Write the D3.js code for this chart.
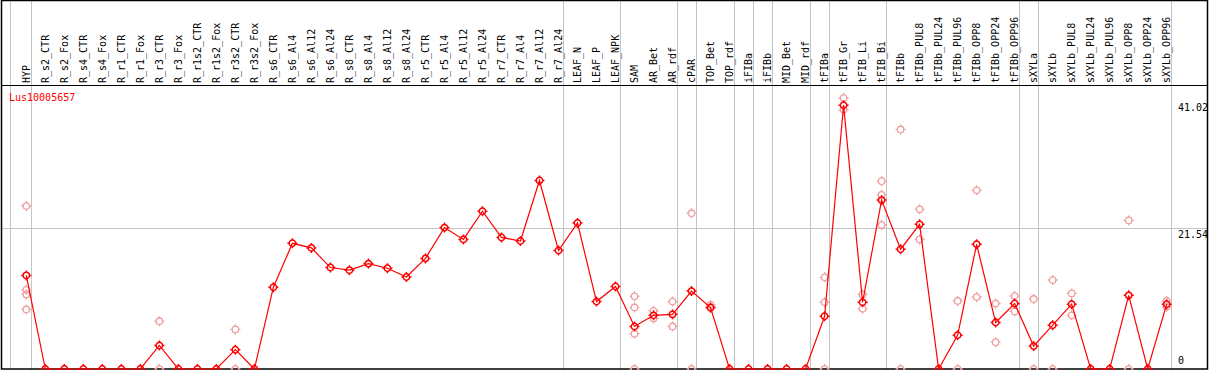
<!DOCTYPE html>
<html>
<head>
<meta charset="utf-8">
<script src="https://cdn.jsdelivr.net/npm/d3@7"></script>
<style>
  html, body { margin: 0; padding: 0; background: #fff; }
  svg { display: block; }
  text { font-family: "DejaVu Sans Mono", monospace; font-size: 10px; }
</style>
</head>
<body>
<div id="chart"></div>
<script>
// sample names, one column each
const samples = [
  "HYP", "R_s2_CTR", "R_s2_Fox", "R_s4_CTR", "R_s4_Fox", "R_r1_CTR", "R_r1_Fox",
  "R_r3_CTR", "R_r3_Fox", "R_r1s2_CTR", "R_r1s2_Fox", "R_r3s2_CTR", "R_r3s2_Fox",
  "R_s6_CTR", "R_s6_Al4", "R_s6_Al12", "R_s6_Al24", "R_s8_CTR", "R_s8_Al4", "R_s8_Al12",
  "R_s8_Al24", "R_r5_CTR", "R_r5_Al4", "R_r5_Al12", "R_r5_Al24", "R_r7_CTR", "R_r7_Al4",
  "R_r7_Al12", "R_r7_Al24", "LEAF_N", "LEAF_P", "LEAF_NPK", "SAM", "AR_Bet", "AR_rdf",
  "cPAR", "TOP_Bet", "TOP_rdf", "iFIBa", "iFIBb", "MID_Bet", "MID_rdf", "tFIBa",
  "tFIB_Gr", "tFIB_Li", "tFIB_Bi", "tFIBb", "tFIBb_PUL8", "tFIBb_PUL24", "tFIBb_PUL96",
  "tFIBb_OPP8", "tFIBb_OPP24", "tFIBb_OPP96", "sXYLa", "sXYLb", "sXYLb_PUL8",
  "sXYLb_PUL24", "sXYLb_PUL96", "sXYLb_OPP8", "sXYLb_OPP24", "sXYLb_OPP96"
];

// mean expression per sample
const means = [
  14.3, 0, 0, 0, 0, 0, 0, 3.6, 0, 0, 0, 2.95, 0,
  12.5, 19.2, 18.5, 15.5, 15.1, 16.1, 15.4, 14.05, 16.9, 21.6, 19.8, 24.1,
  20.1, 19.55, 28.8, 18.1, 22.3, 10.3, 12.6, 6.5, 8.2, 8.35, 11.9, 9.4,
  0, 0, 0, 0, 0, 8.05, 40.3, 10.2, 25.8, 18.3, 22.1, 0, 5.15, 19.05, 7.1, 10.0,
  3.5, 6.7, 9.9, 0, 0, 11.25, 0, 9.9
];

// individual replicates [sample, value]
const replicates = [
  ["HYP", 24.9], ["HYP", 12.1], ["HYP", 11.4], ["HYP", 9.1],
  ["R_r3_CTR", 7.3], ["R_r3_CTR", 0],
  ["R_r3s2_CTR", 6.05], ["R_r3s2_CTR", 0],
  ["SAM", 11.1], ["SAM", 9.4], ["SAM", 5.4], ["SAM", 0],
  ["AR_Bet", 8.9], ["AR_Bet", 7.7],
  ["AR_rdf", 10.3], ["AR_rdf", 6.5],
  ["cPAR", 23.8], ["cPAR", 0],
  ["TOP_Bet", 9.8], ["TOP_Bet", 9.3],
  ["tFIBa", 14.0], ["tFIBa", 10.2], ["tFIBa", 0],
  ["tFIB_Gr", 41.4], ["tFIB_Gr", 39.6],
  ["tFIB_Li", 11.4], ["tFIB_Li", 9.2],
  ["tFIB_Bi", 28.7], ["tFIB_Bi", 26.6], ["tFIB_Bi", 22.0],
  ["tFIBb", 36.6], ["tFIBb", 0],
  ["tFIBb_PUL8", 24.4], ["tFIBb_PUL8", 19.8],
  ["tFIBb_PUL96", 10.4], ["tFIBb_PUL96", 0],
  ["tFIBb_OPP8", 27.3], ["tFIBb_OPP8", 11.0],
  ["tFIBb_OPP24", 10.0], ["tFIBb_OPP24", 4.1],
  ["tFIBb_OPP96", 11.15], ["tFIBb_OPP96", 8.8],
  ["sXYLa", 10.7], ["sXYLa", 0],
  ["sXYLb", 13.6], ["sXYLb", 0],
  ["sXYLb_PUL8", 11.55], ["sXYLb_PUL8", 8.2],
  ["sXYLb_OPP8", 22.7], ["sXYLb_OPP8", 0],
  ["sXYLb_OPP96", 10.4], ["sXYLb_OPP96", 9.5]
];

// last sample of each group (a grey separator follows it)
const groupEnds = [
  "HYP", "R_r7_Al24", "LEAF_NPK", "AR_rdf", "cPAR", "TOP_rdf", "iFIBa", "iFIBb",
  "MID_rdf", "tFIBa", "tFIB_Bi", "tFIBb_OPP96", "sXYLa", "sXYLb_OPP96"
];

const yTicks = [0, 21.54, 41.02];
const geneName = "Lus10005657";

const W = 1209, H = 370;
const headerBottom = 85;

const svg = d3.select("#chart").append("svg")
    .attr("width", W)
    .attr("height", H);

const x = d3.scalePoint()
    .domain(samples)
    .range([26.3, 1166.7]);

const y = d3.scaleLinear()
    .domain([0, 41.02])
    .range([369, 100.5]);

// grid: separators
svg.append("g")
    .selectAll("line")
    .data(groupEnds)
    .join("line")
    .attr("x1", d => Math.round(x(d) + 4.4) + 0.5)
    .attr("x2", d => Math.round(x(d) + 4.4) + 0.5)
    .attr("y1", 0)
    .attr("y2", H)
    .attr("stroke", "#c4c4c4")
    .attr("stroke-width", 1);

// the extra line just left of the first column
svg.append("line")
    .attr("x1", 10.5).attr("x2", 10.5)
    .attr("y1", 0).attr("y2", H)
    .attr("stroke", "#c4c4c4");

// horizontal grid at the middle tick
svg.append("line")
    .attr("x1", 1).attr("x2", W - 1)
    .attr("y1", Math.round(y(yTicks[1])) + 0.5)
    .attr("y2", Math.round(y(yTicks[1])) + 0.5)
    .attr("stroke", "#c4c4c4");

// header labels
svg.append("g")
    .selectAll("text")
    .data(samples)
    .join("text")
    .attr("transform", d => `translate(${x(d) + 3.5},83) rotate(-90)`)
    .attr("fill", "#000")
    .text(d => d);

// frame
svg.append("rect")
    .attr("x", 1.5).attr("y", 0.5)
    .attr("width", W - 3).attr("height", H - 1.5)
    .attr("fill", "none")
    .attr("stroke", "#000")
    .attr("stroke-width", 1.5);

svg.append("line")
    .attr("x1", 1).attr("x2", W - 1)
    .attr("y1", headerBottom + 0.5).attr("y2", headerBottom + 0.5)
    .attr("stroke", "#000")
    .attr("stroke-width", 1.2);

// gene name
svg.append("text")
    .attr("x", 9)
    .attr("y", 101)
    .attr("fill", "#ff0000")
    .text(geneName);

// right axis
const axis = d3.axisRight(y)
    .tickValues(yTicks)
    .tickSize(0)
    .tickPadding(0)
    .tickFormat(d => d === 0 ? "0" : d3.format(".2f")(d));

const axisG = svg.append("g")
    .attr("transform", "translate(1178,0)")
    .call(axis);
axisG.select(".domain").remove();
axisG.selectAll("text")
    .attr("font-family", "'DejaVu Sans Mono', monospace")
    .attr("font-size", 10)
    .attr("fill", "#000")
    .attr("dy", d => d === 0 ? "-0.55em" : "0.95em");

// marker: circle with four little ticks
function marker(sel, color, width) {
  sel.append("circle")
      .attr("r", 3.2)
      .attr("fill", "none")
      .attr("stroke", color)
      .attr("stroke-width", width);
  sel.append("path")
      .attr("d", "M0,-5V-3M0,3V5M-5,0H-3M3,0H5")
      .attr("stroke", color)
      .attr("stroke-width", width);
}

// replicates
svg.append("g")
    .selectAll("g")
    .data(replicates)
    .join("g")
    .attr("transform", d => `translate(${x(d[0])},${y(d[1])})`)
    .call(marker, "#f0a0a0", 1.3);

// mean line
const pts = samples.map((s, i) => [x(s), y(means[i])]);
svg.append("path")
    .datum(pts)
    .attr("d", d3.line())
    .attr("fill", "none")
    .attr("stroke", "#ff0000")
    .attr("stroke-width", 1.2);

svg.append("g")
    .selectAll("g")
    .data(pts)
    .join("g")
    .attr("transform", d => `translate(${d[0]},${d[1]})`)
    .call(marker, "#ff0000", 1.5);
</script>
</body>
</html>
